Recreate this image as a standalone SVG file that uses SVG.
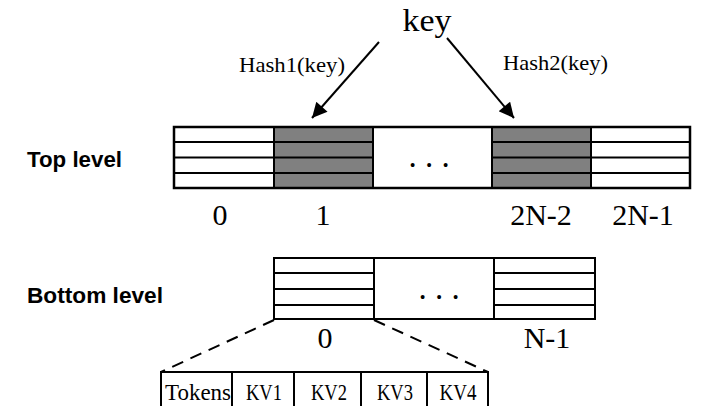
<svg xmlns="http://www.w3.org/2000/svg" width="703" height="406" viewBox="0 0 703 406">
  <defs>
    <marker id="ah" viewBox="0 0 10 10" refX="10" refY="5" markerWidth="17" markerHeight="15" markerUnits="userSpaceOnUse" orient="auto">
      <path d="M0,0 L10,5 L0,10 z" fill="#000"/>
    </marker>
    <style>
      .box { fill: #fff; stroke: #000; stroke-width: 2; }
      .gray { fill: #808080; stroke: #000; stroke-width: 2; }
      .ln { stroke: #000; stroke-width: 2; fill: none; }
      .arrow { stroke: #000; stroke-width: 2; fill: none; }
      .dash { stroke: #000; stroke-width: 2; fill: none; stroke-dasharray: 12 8; }
      .serif { font-family: "Liberation Serif", "Times New Roman", serif; fill: #000; }
      .idx { font-size: 30px; text-anchor: middle; }
      .lbl { font-family: "Liberation Sans", Arial, sans-serif; font-weight: bold; font-size: 22px; fill: #000; }
      .cell { font-size: 23px; text-anchor: middle; }
      .hash { font-size: 21px; }
      .dots { font-size: 33px; text-anchor: middle; }
    </style>
  </defs>

  <g id="key">
    <text class="serif" x="427" y="31" font-size="32" text-anchor="middle" textLength="49" lengthAdjust="spacingAndGlyphs">key</text>
  </g>

  <g id="connectors">
    <line class="arrow" x1="379" y1="42" x2="312" y2="118" marker-end="url(#ah)"/>
    <line class="arrow" x1="447" y1="38" x2="514" y2="118" marker-end="url(#ah)"/>
    <line class="dash" x1="274" y1="320" x2="161" y2="372"/>
    <line class="dash" x1="374" y1="320" x2="488" y2="372"/>
    <text class="serif hash" x="239" y="72" textLength="106" lengthAdjust="spacingAndGlyphs">Hash1(key)</text>
    <text class="serif hash" x="503" y="70" textLength="105" lengthAdjust="spacingAndGlyphs">Hash2(key)</text>
  </g>

  <g id="top-level">
    <text class="lbl" x="27" y="167" textLength="95" lengthAdjust="spacingAndGlyphs">Top level</text>
    <rect class="box" x="174" y="127" width="516" height="61"/>
    <rect class="gray" x="274" y="127" width="99" height="61"/>
    <rect class="gray" x="492" y="127" width="99" height="61"/>
    <line class="ln" x1="174" y1="142" x2="373" y2="142"/>
    <line class="ln" x1="174" y1="157.5" x2="373" y2="157.5"/>
    <line class="ln" x1="174" y1="173" x2="373" y2="173"/>
    <line class="ln" x1="492" y1="142" x2="690" y2="142"/>
    <line class="ln" x1="492" y1="157.5" x2="690" y2="157.5"/>
    <line class="ln" x1="492" y1="173" x2="690" y2="173"/>
    <line class="ln" x1="274" y1="127" x2="274" y2="188"/>
    <line class="ln" x1="373" y1="127" x2="373" y2="188"/>
    <line class="ln" x1="492" y1="127" x2="492" y2="188"/>
    <line class="ln" x1="591" y1="127" x2="591" y2="188"/>
    <rect x="174" y="127" width="516" height="61" fill="none" stroke="#000" stroke-width="2.5"/>
    <text class="serif dots" x="429" y="167">. . .</text>
    <text class="serif idx" x="220" y="225">0</text>
    <text class="serif idx" x="323" y="225">1</text>
    <text class="serif idx" x="541" y="225">2N-2</text>
    <text class="serif idx" x="643" y="225">2N-1</text>
  </g>

  <g id="bottom-level">
    <text class="lbl" x="27" y="303" textLength="136" lengthAdjust="spacingAndGlyphs">Bottom level</text>
    <rect class="box" x="274" y="258" width="321" height="61"/>
    <line class="ln" x1="274" y1="273" x2="374" y2="273"/>
    <line class="ln" x1="274" y1="289" x2="374" y2="289"/>
    <line class="ln" x1="274" y1="305" x2="374" y2="305"/>
    <line class="ln" x1="494" y1="273" x2="595" y2="273"/>
    <line class="ln" x1="494" y1="289" x2="595" y2="289"/>
    <line class="ln" x1="494" y1="305" x2="595" y2="305"/>
    <line class="ln" x1="374" y1="258" x2="374" y2="319"/>
    <line class="ln" x1="494" y1="258" x2="494" y2="319"/>
    <text class="serif dots" x="439" y="299">. . .</text>
    <text class="serif idx" x="325" y="348">0</text>
    <text class="serif idx" x="547" y="348">N-1</text>
  </g>

  <g id="bucket-detail">
    <line class="ln" x1="161" y1="372" x2="488" y2="372"/>
    <line class="ln" x1="161" y1="371" x2="161" y2="406"/>
    <line class="ln" x1="232" y1="372" x2="232" y2="406"/>
    <line class="ln" x1="294" y1="372" x2="294" y2="406"/>
    <line class="ln" x1="361" y1="372" x2="361" y2="406"/>
    <line class="ln" x1="427" y1="372" x2="427" y2="406"/>
    <line class="ln" x1="488" y1="371" x2="488" y2="406"/>
    <text class="serif cell" x="198" y="400" textLength="66" lengthAdjust="spacingAndGlyphs">Tokens</text>
    <text class="serif cell" x="264" y="400" textLength="36" lengthAdjust="spacingAndGlyphs">KV1</text>
    <text class="serif cell" x="329" y="400" textLength="36" lengthAdjust="spacingAndGlyphs">KV2</text>
    <text class="serif cell" x="395" y="400" textLength="36" lengthAdjust="spacingAndGlyphs">KV3</text>
    <text class="serif cell" x="458" y="400" textLength="37" lengthAdjust="spacingAndGlyphs">KV4</text>
  </g>
</svg>
